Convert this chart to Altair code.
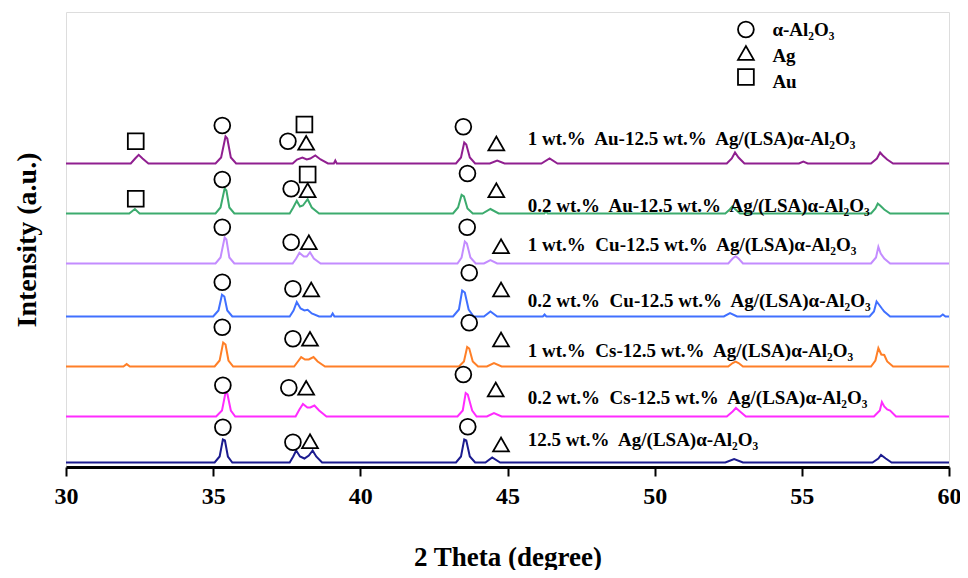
import altair as alt
import pandas as pd

# ---------------- data ----------------
x_ticks = [30, 35, 40, 45, 50, 55, 60]

series_names = [
    "12.5 wt.%\u00a0 Ag/(LSA)α-Al₂O₃",
    "0.2 wt.%\u00a0 Cs-12.5 wt.%\u00a0 Ag/(LSA)α-Al₂O₃",
    "1 wt.%\u00a0 Cs-12.5 wt.%\u00a0 Ag/(LSA)α-Al₂O₃",
    "0.2 wt.%\u00a0 Cu-12.5 wt.%\u00a0 Ag/(LSA)α-Al₂O₃",
    "1 wt.%\u00a0 Cu-12.5 wt.%\u00a0 Ag/(LSA)α-Al₂O₃",
    "0.2 wt.%\u00a0 Au-12.5 wt.%\u00a0 Ag/(LSA)α-Al₂O₃",
    "1 wt.%\u00a0 Au-12.5 wt.%\u00a0 Ag/(LSA)α-Al₂O₃",
]
series_colors = ["#1b1b8f", "#ff2bff", "#ff7f27", "#4070ff", "#c38cff", "#3cab6e", "#901f90"]
offsets = [4.5, 50.5, 100.5, 150.5, 203.5, 253.5, 303.5]

theta_1 = [30, 35.05, 35.22, 35.33, 35.4, 35.5, 35.65, 37.6, 37.72, 37.82, 37.95, 38.1, 38.25, 38.38, 38.5, 38.7,
           43.25, 43.42, 43.53, 43.6, 43.72, 43.9, 44.25, 44.48, 44.75, 52.4, 52.7, 53.0,
           57.4, 57.6, 57.69, 57.85, 58.05, 60]
int_1 = [0, 0, 6, 23, 22, 6, 0, 0, 6, 12, 6, 4, 7, 12, 6, 0,
         0, 6, 23, 22, 6, 0, 0, 5, 0, 0, 3.5, 0,
         0, 4, 7.5, 4, 0, 0]

theta_2 = [30, 35.1, 35.3, 35.42, 35.48, 35.6, 35.75, 37.8, 37.93, 38.05, 38.2, 38.3, 38.44, 38.6, 38.85,
           43.3, 43.48, 43.58, 43.65, 43.8, 43.95, 44.3, 44.54, 44.8, 52.45, 52.65, 52.76, 52.9, 53.1,
           57.45, 57.65, 57.72, 57.8, 57.9, 58.0, 58.2, 60]
int_2 = [0, 0, 6, 24, 23, 6, 0, 0, 7, 12.5, 9, 9, 11, 6, 0,
         0, 6, 23.5, 22, 6, 0, 0, 3.5, 0, 0, 5, 8.5, 5, 0,
         0, 6, 14.5, 10, 7, 6, 0, 0]

theta_3 = [30, 31.95, 32.06, 32.17, 35.05, 35.22, 35.34, 35.42, 35.52, 35.68, 37.75, 37.88, 37.99, 38.12, 38.25,
           38.41, 38.55, 38.8, 43.35, 43.52, 43.63, 43.7, 43.82, 44.0, 44.3, 44.54, 44.8,
           52.5, 52.65, 52.75, 52.85, 53.0, 57.35, 57.5, 57.6, 57.7, 57.8, 57.9, 58.1, 60]
int_3 = [0, 0, 2.4, 0, 0, 6, 24, 22, 6, 0, 0, 5, 9.4, 7, 7,
         9.4, 5, 0, 0, 5, 19.5, 18, 5, 0, 0, 3.4, 0,
         0, 3.5, 5, 3.5, 0, 0, 6, 18.5, 12, 11.5, 5, 0, 0]

theta_4 = [30, 35.0, 35.18, 35.3, 35.38, 35.48, 35.65, 37.6, 37.73, 37.84, 37.97, 38.1, 38.21, 38.35, 38.6,
           39.0, 39.06, 39.12, 43.15, 43.35, 43.46, 43.55, 43.68, 43.85, 44.2, 44.42, 44.65,
           46.2, 46.26, 46.32, 52.35, 52.56, 52.8, 57.3, 57.45, 57.54, 57.62, 57.72, 57.8, 58.0,
           59.7, 59.79, 59.88, 60]
int_4 = [0, 0, 6, 21.7, 20, 6, 0, 0, 6, 14.4, 8, 6, 6.7, 3, 0,
         0, 3, 0, 0, 7, 26, 24, 7, 0, 0, 5, 0,
         0, 2, 0, 0, 3.4, 0, 0, 5, 15, 12, 8, 5, 0,
         0, 2, 0, 0]

theta_5 = [30, 35.08, 35.25, 35.39, 35.45, 35.55, 35.72, 37.7, 37.82, 37.93, 38.08, 38.18, 38.29, 38.42, 38.65,
           43.3, 43.44, 43.55, 43.62, 43.74, 43.92, 44.2, 44.42, 44.65, 52.5, 52.65, 52.75, 52.85, 53.0,
           57.35, 57.52, 57.6, 57.68, 57.8, 58.0, 60]
int_5 = [0, 0, 6, 26, 24, 6, 0, 0, 5, 10.7, 7, 7, 11.3, 5, 0,
         0, 6, 22, 20, 6, 0, 0, 3.3, 0, 0, 5, 7.3, 5, 0,
         0, 6, 16.7, 10, 5, 0, 0]

theta_6 = [30, 32.15, 32.34, 32.5, 35.08, 35.25, 35.39, 35.45, 35.55, 35.72, 37.6, 37.72, 37.84, 37.95, 38.05,
           38.21, 38.35, 38.6, 43.15, 43.32, 43.44, 43.52, 43.64, 43.82, 44.15, 44.42, 44.7,
           46.25, 46.31, 46.37, 52.4, 52.55, 52.64, 52.75, 52.9, 57.35, 57.5, 57.58, 57.66, 57.8, 58.0, 60]
int_6 = [0, 0, 4.5, 0, 0, 6, 25, 23, 6, 0, 0, 6, 12.6, 7, 8,
         14.3, 6, 0, 0, 6, 18.6, 17, 5, 0, 0, 4.5, 0,
         0, 2, 0, 0, 4, 7, 4, 0, 0, 5, 10, 8, 4, 0, 0]

theta_7 = [30, 32.2, 32.35, 32.47, 32.6, 32.8, 35.08, 35.27, 35.42, 35.48, 35.6, 35.78, 37.7, 37.85, 38.03,
           38.18, 38.3, 38.47, 38.65, 38.9, 39.1, 39.15, 39.2, 43.25, 43.42, 43.53, 43.6, 43.72, 43.9,
           44.4, 44.65, 44.9, 46.15, 46.43, 46.7, 52.45, 52.62, 52.73, 52.85, 53.05, 54.9, 55.05, 55.2,
           57.35, 57.55, 57.66, 57.75, 57.9, 58.1, 60]
int_7 = [0, 0, 5, 8.7, 5, 0, 0, 6, 27, 25, 6, 0, 0, 4, 6,
         4, 5, 8, 4, 0, 0, 3, 0, 0, 6, 21, 19, 6, 0,
         0, 3, 0, 0, 5, 0, 0, 5, 11, 6, 0, 0, 2, 0,
         0, 5, 11, 8, 4, 0, 0]

thetas = [theta_1, theta_2, theta_3, theta_4, theta_5, theta_6, theta_7]
ints = [int_1, int_2, int_3, int_4, int_5, int_6, int_7]

# series label positions
label_theta = [45.69] * 7
label_y = [27.5, 69.5, 116.5, 166.5, 222.5, 261.5, 328.0]

# phase markers: circle = α-Al2O3, triangle = Ag, square = Au
mk_theta = [35.31, 37.54, 43.50, 35.31, 37.65, 43.64, 35.31, 37.65, 43.63, 35.31, 37.71, 43.70,
            35.31, 37.71, 43.70, 35.33, 37.57, 43.50, 35.33, 37.71, 43.65,
            38.16, 44.62, 38.21, 44.62, 38.25, 44.78, 38.33, 44.78, 38.29, 44.78, 38.16, 44.60, 38.29, 44.78,
            32.37, 38.10, 32.37, 38.21,
            53.1, 53.1, 53.1]
mk_y = [341.5, 325.8, 340.2, 287.5, 278.2, 293.5, 239.8, 224.8, 239.8, 184.8, 178.2, 194.2,
        139.8, 128.2, 144.2, 81.8, 79.2, 92.5, 39.8, 24.8, 40.2,
        324.2, 323.5, 276.8, 276.8, 224.8, 220.8, 177.5, 177.5, 128.2, 127.5, 79.2, 77.5, 25.8, 22.5,
        325.8, 342.5, 268.2, 292.5,
        437.5, 414.0, 390.0]
mk_kind = ["α-Al₂O₃"] * 21 + ["Ag"] * 14 + ["Au"] * 4 + ["α-Al₂O₃", "Ag", "Au"]

legend_text = ["α-Al₂O₃", "Ag", "Au"]
legend_theta = [54.0, 54.0, 54.0]
legend_y = [437.5, 411.0, 385.0]

# ---------------- tables ----------------
rows = []
for i, (th, it) in enumerate(zip(thetas, ints)):
    for k, (t, v) in enumerate(zip(th, it)):
        rows.append({"series": series_names[i], "order": k, "theta": t, "y": offsets[i] + v})
lines_df = pd.DataFrame(rows)

labels_df = pd.DataFrame({"theta": label_theta, "y": label_y, "text": series_names})
markers_df = pd.DataFrame({"theta": mk_theta, "y": mk_y, "kind": mk_kind})
legend_df = pd.DataFrame({"theta": legend_theta, "y": legend_y, "text": legend_text})

FONT = "Liberation Serif, Times New Roman, DejaVu Serif, serif"

x_scale = alt.Scale(domain=[30, 60], nice=False, zero=False)
y_scale = alt.Scale(domain=[0, 455], nice=False, zero=False)

x_axis = alt.Axis(values=x_ticks, title="2 Theta (degree)", grid=False, format="d", labelFlush=False,
                  domainColor="black", domainWidth=3, tickColor="black", tickWidth=2, tickSize=9,
                  labelFont=FONT, labelFontSize=24, labelFontWeight="bold", labelColor="black",
                  labelPadding=8, titleFont=FONT, titleFontSize=27, titleFontWeight="bold",
                  titleColor="black", titleY=90, titleBaseline="middle")
y_axis = alt.Axis(labels=False, ticks=False, domain=False, grid=False, title="Intensity (a.u.)",
                  titleFont=FONT, titleFontSize=28, titleFontWeight="bold", titleColor="black",
                  titleX=-39, titleY=227.5, titleAngle=-90, titleBaseline="middle", titleAlign="center")

lines = alt.Chart(lines_df).mark_line(strokeWidth=2, clip=True).encode(
    x=alt.X("theta:Q", scale=x_scale, axis=x_axis),
    y=alt.Y("y:Q", scale=y_scale, axis=y_axis),
    color=alt.Color("series:N", scale=alt.Scale(domain=series_names, range=series_colors), legend=None),
    order="order:Q",
)

markers = alt.Chart(markers_df).mark_point(filled=False, color="black", strokeWidth=1.8, size=250, opacity=1).encode(
    x=alt.X("theta:Q", scale=x_scale),
    y=alt.Y("y:Q", scale=y_scale),
    shape=alt.Shape("kind:N", scale=alt.Scale(domain=["α-Al₂O₃", "Ag", "Au"],
                                              range=["circle", "triangle-up", "square"]), legend=None),
)

labels = alt.Chart(labels_df).mark_text(align="left", baseline="middle", font=FONT, fontSize=19,
                                        fontWeight="bold", color="black").encode(
    x=alt.X("theta:Q", scale=x_scale),
    y=alt.Y("y:Q", scale=y_scale),
    text="text:N",
)

legend_labels = alt.Chart(legend_df).mark_text(align="left", baseline="middle", font=FONT, fontSize=19,
                                               fontWeight="bold", color="black").encode(
    x=alt.X("theta:Q", scale=x_scale),
    y=alt.Y("y:Q", scale=y_scale),
    text="text:N",
)

chart = alt.layer(lines, markers, labels, legend_labels).properties(
    width=883, height=455,
    autosize=alt.AutoSizeParams(type="none"),
    padding={"left": 58, "top": 4, "right": 11, "bottom": 103},
).configure_view(stroke="black", strokeWidth=3).configure(background="white")

chart.save("out.html", embed_options={"renderer": "svg", "actions": False})
